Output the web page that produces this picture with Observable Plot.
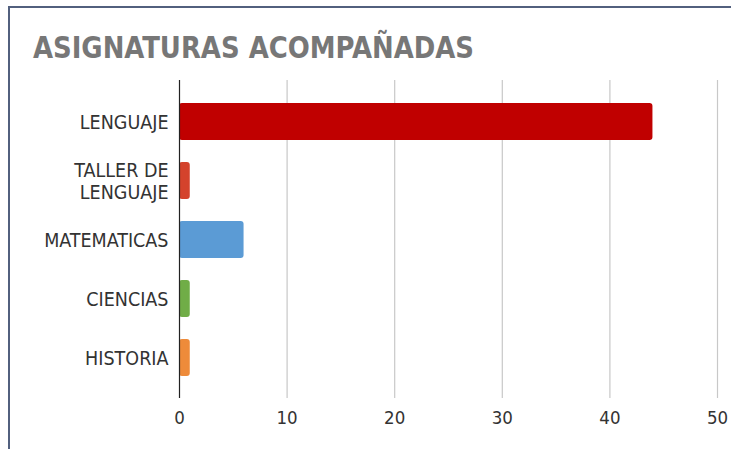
<!DOCTYPE html>
<html>
<head>
<meta charset="utf-8">
<script src="https://cdn.jsdelivr.net/npm/d3@7"></script>
<script src="https://cdn.jsdelivr.net/npm/@observablehq/plot@0.6"></script>
<style>
  html, body { margin: 0; padding: 0; background: #fff; }
  #wrap { position: relative; width: 731px; height: 449px; overflow: hidden; }
  #frame { position: absolute; left: 8px; top: 6px; width: 760px; height: 480px;
           border-left: 2px solid #52607e; border-top: 2px solid #52607e; box-sizing: border-box; }
  #title { position: absolute; left: 0; top: 0; }
  #chart { position: absolute; left: 0; top: 0; }
</style>
</head>
<body>
<div id="wrap">
  <div id="frame"></div>
  <div id="chart"></div>
  <svg id="title" width="731" height="80">
    <text x="33" y="58" font-family="DejaVu Sans Condensed, DejaVu Sans, sans-serif" font-weight="bold"
          font-size="31" fill="#777777" textLength="441" lengthAdjust="spacingAndGlyphs">ASIGNATURAS ACOMPAÑADAS</text>
  </svg>
</div>
<script>
const subjects = ["LENGUAJE", "TALLER DE\nLENGUAJE", "MATEMATICAS", "CIENCIAS", "HISTORIA"];
const values = [44, 1, 6, 1, 1];
const colors = ["#c00000", "#d4432c", "#5b9bd5", "#70ad47", "#ee8b3a"];
const xTicks = [0, 10, 20, 30, 40, 50];

const data = subjects.map((s, i) => ({subject: s, value: values[i]}));

const chart = Plot.plot({
  width: 731,
  height: 449,
  marginLeft: 179,
  marginRight: 14,
  marginTop: 80,
  marginBottom: 51,
  style: {fontFamily: "'DejaVu Sans Condensed', 'DejaVu Sans', sans-serif", fontSize: "18px", color: "#333333", background: "transparent"},
  x: {domain: [0, 50]},
  y: {domain: subjects, padding: 0.38},
  color: {domain: subjects, range: colors},
  marks: [
    Plot.gridX(xTicks.slice(1), {stroke: "#c8c8c8", strokeOpacity: 1, strokeWidth: 1.2}),
    Plot.barX(data, {x: "value", y: "subject", fill: "subject", rx: 3}),
    Plot.ruleX([0], {stroke: "#222", strokeWidth: 1.2}),
    Plot.axisX(xTicks, {tickSize: 0, tickPadding: 12, fontSize: 18.5, label: null}),
    Plot.axisY({tickSize: 0, tickPadding: 11, fontSize: 19.5, lineHeight: 1.12, label: null})
  ]
});
document.getElementById("chart").appendChild(chart);
</script>
</body>
</html>
